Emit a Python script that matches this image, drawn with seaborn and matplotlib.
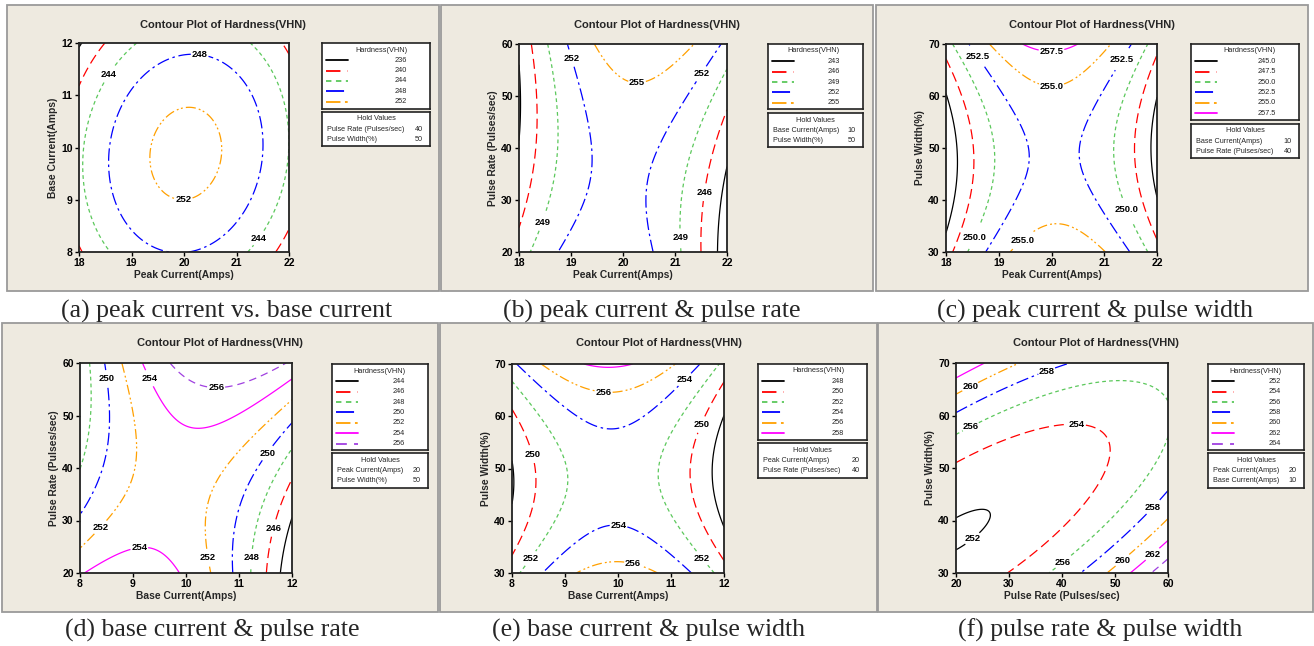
import numpy as np
import matplotlib
matplotlib.use("Agg")
import matplotlib.pyplot as plt
import seaborn as sns
from matplotlib.patches import Rectangle

# ---------------------------------------------------------------------------
# Data: points read off each contour line of the six Minitab plots,
# keyed by contour level (x, y in the plot's own units).
# ---------------------------------------------------------------------------
PEAK_BASE_LEVELS = [236, 240, 244, 248, 252]
PEAK_BASE_PTS = {
    252: [(19.35, 9.86), (20.69, 10.02), (20.08, 10.76), (19.99, 9.10), (19.6, 10.53), (20.5, 9.26)],
    248: [(18.56, 9.77), (21.51, 10.02), (19.99, 11.78), (19.96, 8.01), (18.97, 8.43),
          (21.07, 8.49), (19.16, 11.33), (21.07, 11.3)],
    244: [(18.08, 10.02), (21.96, 9.89), (19.1, 12), (21.23, 12), (18.59, 8), (21.19, 8)],
    240: [(18, 11.17), (18.5, 12), (18, 8.11), (18.08, 8), (21.73, 8), (22, 8.43), (21.89, 12), (22, 11.81)],
}
PEAK_BASE_HOLD = [("Pulse Rate (Pulses/sec)", "40"), ("Pulse Width(%)", "50")]

PEAK_RATE_LEVELS = [243, 246, 249, 252, 255]
PEAK_RATE_PTS = {
    255: [(19.44, 60), (21.38, 60), (20.07, 52.8), (20.45, 52.8), (20.26, 52.5)],
    252: [(19.01, 60), (19.17, 52.5), (19.4, 41), (19.4, 37.1), (19.17, 30.1), (18.8, 20),
          (21.89, 60), (21.09, 46.7), (20.52, 35.2), (20.46, 27.5), (20.58, 20)],
    249: [(18.53, 60), (18.72, 46.1), (18.69, 36.5), (18.4, 26.9), (18.24, 20),
          (22, 55.1), (21.48, 44.8), (21.16, 35.2), (21.1, 20)],
    246: [(18.22, 60), (18.34, 42.9), (18.21, 32), (18, 24.3),
          (22, 47.1), (21.67, 38.4), (21.51, 26.9), (21.51, 20)],
    243: [(18.03, 41.6), (18.03, 50.6), (18, 54.7), (18, 40.3), (21.83, 20), (21.89, 30.1), (22, 36.2)],
}
PEAK_RATE_HOLD = [("Base Current(Amps)", "10"), ("Pulse Width(%)", "50")]

PEAK_WIDTH_LEVELS = [245.0, 247.5, 250.0, 252.5, 255.0, 257.5]
PEAK_WIDTH_PTS = {
    257.5: [(19.44, 70), (19.94, 68.9), (20.45, 70)],
    255.0: [(18.8, 70), (19.37, 64.7), (20.04, 62.5), (20.64, 64.4), (21.21, 70),
            (19.18, 30), (19.63, 33.3), (20.07, 35.3), (20.58, 34.3), (21.02, 30)],
    252.5: [(18.44, 70), (19.18, 58.7), (19.59, 49), (19.18, 40.1), (18.8, 30),
            (21.51, 70), (20.7, 56.1), (20.51, 49.7), (20.77, 42.6), (21.47, 30)],
    250.0: [(18.12, 70), (18.74, 59.3), (18.93, 49), (18.74, 40.1), (18.46, 30),
            (21.84, 70), (21.27, 57.4), (21.18, 49), (21.34, 40.1), (21.82, 30)],
    247.5: [(18.01, 66.7), (18.49, 55.4), (18.52, 49.7), (18.36, 40.1), (18.15, 30),
            (22, 67.9), (21.59, 56.1), (21.56, 49), (21.72, 40.1), (22, 33)],
    245.0: [(18, 60), (18.23, 49.7), (18.11, 38.8), (18, 33.3), (22, 60), (21.89, 49.7), (22, 40.1)],
}
PEAK_WIDTH_HOLD = [("Base Current(Amps)", "10"), ("Pulse Rate (Pulses/sec)", "40")]

BASE_RATE_LEVELS = [244, 246, 248, 250, 252, 254, 256]
BASE_RATE_PTS = {
    256: [(9.67, 60), (10.02, 56.8), (10.33, 55.4), (10.9, 56.5), (11.91, 60)],
    254: [(9.18, 60), (9.45, 54.6), (9.83, 49.5), (10.2, 47.4), (10.77, 49.5), (11.53, 53.3), (12, 57),
          (8.13, 20), (9.01, 24.4), (9.45, 23.8), (9.89, 20)],
    252: [(8.79, 60), (9.04, 47.6), (9.01, 40), (8.79, 34.3), (8.38, 29.8), (8, 24.6),
          (10.46, 20), (10.39, 31.7), (10.58, 38.1), (11.15, 43.2), (12, 53)],
    250: [(8.47, 60), (8.57, 52.1), (8.54, 46.3), (8.35, 38.1), (8, 30.8),
          (10.9, 20), (10.96, 31.1), (11.28, 38.7), (12, 48.6)],
    248: [(8.19, 60), (8.18, 50.2), (8, 39.7), (11.23, 20), (11.34, 31.7), (11.65, 38.7), (12, 43.5)],
    246: [(11.53, 20), (11.69, 30.5), (12, 38.1)],
    244: [(11.79, 20), (12, 30.5)],
}
BASE_RATE_HOLD = [("Peak Current(Amps)", "20"), ("Pulse Width(%)", "50")]

BASE_WIDTH_LEVELS = [248, 250, 252, 254, 256, 258]
BASE_WIDTH_PTS = {
    258: [(9.41, 70), (9.79, 69.2), (10.26, 70)],
    256: [(8.57, 70), (9.16, 66.3), (9.98, 64.4), (10.67, 66.3), (11.08, 70),
          (9.22, 30), (9.92, 32), (10.42, 31.3), (10.76, 30)],
    254: [(8.13, 69.8), (8.91, 62.8), (9.92, 57.7), (10.67, 60.3), (11.55, 70),
          (8.6, 30), (9.16, 34.8), (9.79, 38.9), (10.42, 37.3), (11.05, 34.1), (11.39, 30)],
    252: [(8, 66.6), (8.53, 59.6), (9.04, 50.1), (8.72, 40.5), (8.16, 30),
          (11.92, 70), (11.05, 59.6), (10.76, 49.4), (10.98, 40.5), (11.8, 30)],
    250: [(8.02, 61.2), (8.44, 51.3), (8.44, 48.8), (8.28, 40.5), (8.02, 33.5),
          (12, 66.6), (11.49, 57.7), (11.36, 49.4), (11.52, 40.5), (12, 32.9)],
    248: [(8.04, 48.5), (8, 44.5), (8, 51), (12, 60.3), (11.8, 52.6), (11.83, 44.3), (12, 38.9)],
}
BASE_WIDTH_HOLD = [("Peak Current(Amps)", "20"), ("Pulse Rate (Pulses/sec)", "40")]

RATE_WIDTH_LEVELS = [252, 254, 256, 258, 260, 262, 264]
RATE_WIDTH_PTS = {
    264: [(56.98, 30), (60, 32.9)],
    262: [(52.88, 30), (60, 36.3), (20, 67.1), (25.48, 70)],
    260: [(48.47, 30), (55.09, 35.4), (60, 40.2), (20, 64), (25.48, 66.8), (32.41, 70)],
    258: [(43.12, 30), (50.68, 36.7), (60, 45.6), (20, 60.5), (29.9, 65.9), (34.93, 68.1), (41.86, 70)],
    256: [(20, 56.5), (29.9, 61.4), (39.97, 64.9), (51.31, 66.5), (56.98, 65.6), (60, 63), (60, 55.7),
          (55.09, 46.8), (48.79, 39.2), (42.49, 34.1), (37.26, 30)],
    254: [(20, 51.1), (29.9, 55.7), (39.97, 57.7), (46.27, 57), (48.47, 52.5), (45.64, 46.8),
          (39.97, 37.9), (35.56, 33.5), (29.76, 30)],
    252: [(20, 40.5), (23.59, 41.1), (24.72, 39.8), (23.59, 37.9), (20, 34.4)],
}
RATE_WIDTH_HOLD = [("Peak Current(Amps)", "20"), ("Base Current(Amps)", "10")]

# Minitab contour styles, in legend order
LINE_COLORS = ["#000000", "#FF0000", "#5CC85C", "#0000FF", "#FFA000", "#FF00FF", "#A040E0"]
LINE_DASHES = ["solid", (0, (8, 4)), (0, (3, 2.5)), (0, (10, 3, 2, 3)),
               (0, (8, 2.5, 1.5, 2, 1.5, 2.5)), "solid", (0, (6, 4))]
BEIGE = "#EEEAE0"
W, H = 1314, 646

# layout boxes are in pixels (x0, top, x1, bottom)
PANELS = [
    dict(pts=PEAK_BASE_PTS, levels=PEAK_BASE_LEVELS, hold=PEAK_BASE_HOLD, fmt="%d",
         xlim=(18, 22), ylim=(8, 12), xstep=1, ystep=1,
         xlabel="Peak Current(Amps)", ylabel="Base Current(Amps)",
         caption="(a) peak current vs. base current", cap=(227, 318),
         frame=(7, 5, 439, 291), ax=(79, 43, 289, 252), leg=(322, 43, 430, 109), hbox=(322, 112, 430, 146),
         labels=[(20.3, 11.78), (18.58, 11.38), (19.99, 9.1), (21.38, 8.3)]),
    dict(pts=PEAK_RATE_PTS, levels=PEAK_RATE_LEVELS, hold=PEAK_RATE_HOLD, fmt="%d",
         xlim=(18, 22), ylim=(20, 60), xstep=1, ystep=10,
         xlabel="Peak Current(Amps)", ylabel="Pulse Rate (Pulses/sec)",
         caption="(b) peak current & pulse rate", cap=(652, 318),
         frame=(441, 5, 873, 291), ax=(519, 44, 727, 252), leg=(768, 44, 863, 109), hbox=(768, 113, 863, 147),
         labels=[(18.98, 57.2), (20.27, 52.3), (21.5, 54.3), (18.45, 25.7), (21.57, 31.5), (21.09, 22.8)]),
    dict(pts=PEAK_WIDTH_PTS, levels=PEAK_WIDTH_LEVELS, hold=PEAK_WIDTH_HOLD, fmt="%.1f",
         xlim=(18, 22), ylim=(30, 70), xstep=1, ystep=10,
         xlabel="Peak Current(Amps)", ylabel="Pulse Width(%)",
         caption="(c) peak current & pulse width", cap=(1095, 318),
         frame=(876, 5, 1308, 291), ax=(946, 44, 1157, 252), leg=(1191, 44, 1299, 120), hbox=(1191, 124, 1299, 158),
         labels=[(20.0, 68.6), (18.58, 67.6), (21.32, 67.2), (20.0, 62.2), (21.41, 38.0), (18.55, 32.8),
                 (19.44, 32.3)]),
    dict(pts=BASE_RATE_PTS, levels=BASE_RATE_LEVELS, hold=BASE_RATE_HOLD, fmt="%d",
         xlim=(8, 12), ylim=(20, 60), xstep=1, ystep=10,
         xlabel="Base Current(Amps)", ylabel="Pulse Rate (Pulses/sec)",
         caption="(d) base current & pulse rate", cap=(212, 637),
         frame=(2, 323, 438, 612), ax=(80, 363, 292, 573), leg=(332, 364, 428, 450), hbox=(332, 453, 428, 488),
         labels=[(8.5, 56.95), (9.28, 56.95), (10.57, 55.2), (11.53, 42.9), (8.4, 28.6), (9.12, 24.6),
                 (10.41, 22.9), (11.23, 22.9), (11.64, 28.6)]),
    dict(pts=BASE_WIDTH_PTS, levels=BASE_WIDTH_LEVELS, hold=BASE_WIDTH_HOLD, fmt="%d",
         xlim=(8, 12), ylim=(30, 70), xstep=1, ystep=10,
         xlabel="Base Current(Amps)", ylabel="Pulse Width(%)",
         caption="(e) base current & pulse width", cap=(649, 637),
         frame=(440, 323, 877, 612), ax=(512, 364, 724, 573), leg=(758, 364, 867, 440), hbox=(758, 443, 867, 478),
         labels=[(11.25, 67.1), (9.73, 64.6), (11.55, 58.5), (8.38, 52.7), (10.01, 39.0), (8.36, 32.7),
                 (10.28, 31.7), (11.57, 32.7)]),
    dict(pts=RATE_WIDTH_PTS, levels=RATE_WIDTH_LEVELS, hold=RATE_WIDTH_HOLD, fmt="%d",
         xlim=(20, 60), ylim=(30, 70), xstep=10, ystep=10,
         xlabel="Pulse Rate (Pulses/sec)", ylabel="Pulse Width(%)",
         caption="(f) pulse rate & pulse width", cap=(1100, 637),
         frame=(878, 323, 1313, 612), ax=(956, 363, 1168, 573), leg=(1208, 364, 1304, 450), hbox=(1208, 453, 1304, 488),
         labels=[(37.13, 68.4), (22.83, 65.2), (22.83, 57.8), (42.8, 57.6), (56.98, 42.6), (22.83, 36.9),
                 (39.84, 32.35), (51.18, 32.7), (56.98, 33.7)]),
]


def rect(box):
    x0, y0, x1, y1 = box
    return [x0 / W, 1 - y1 / H, (x1 - x0) / W, (y1 - y0) / H]


def fit_surface(pts, xlim, ylim, n=300):
    xs = np.array([p[0] for lev in pts for p in pts[lev]], dtype=float)
    ys = np.array([p[1] for lev in pts for p in pts[lev]], dtype=float)
    zs = np.array([lev for lev in pts for _ in pts[lev]], dtype=float)
    xc, hx = np.mean(xlim), (xlim[1] - xlim[0]) / 2
    yc, hy = np.mean(ylim), (ylim[1] - ylim[0]) / 2

    def basis(x, y):
        u, v = (x - xc) / hx, (y - yc) / hy
        return np.stack([np.ones_like(u), u, v, u * u, v * v, u * v], axis=-1)

    coef, *_ = np.linalg.lstsq(basis(xs, ys), zs, rcond=None)
    gx, gy = np.meshgrid(np.linspace(*xlim, n), np.linspace(*ylim, n))
    return gx, gy, basis(gx, gy) @ coef


def boxed_axes(fig, box):
    bx = fig.add_axes(rect(box))
    w, h = box[2] - box[0], box[3] - box[1]
    bx.set_xlim(0, w)
    bx.set_ylim(h, 0)
    bx.set_xticks([])
    bx.set_yticks([])
    bx.set_facecolor("white")
    for s in bx.spines.values():
        s.set_color("#222222")
        s.set_linewidth(1.2)
    return bx, w, h


def draw_legend(fig, box, levels, fmt):
    lx, w, _ = boxed_axes(fig, box)
    lx.text(w - 23, 7, "Hardness(VHN)", ha="right", va="center", fontsize=5.3)
    for i, lev in enumerate(levels):
        yy = 17.2 + 10.4 * i
        lx.plot([4, 26], [yy, yy], color=LINE_COLORS[i], linestyle=LINE_DASHES[i], lw=1.3)
        lx.text(w - 23, yy, fmt % lev, ha="right", va="center", fontsize=5.3)


def draw_hold(fig, box, rows):
    hx, w, _ = boxed_axes(fig, box)
    hx.text(w / 2, 7, "Hold Values", ha="center", va="center", fontsize=5.3)
    for i, (name, val) in enumerate(rows):
        yy = 17.5 + 10.5 * i
        hx.text(5, yy, name, ha="left", va="center", fontsize=5.2)
        hx.text(w - 7, yy, val, ha="right", va="center", fontsize=5.2)


sns.set_theme(style="white")
plt.rcParams["font.family"] = ["Liberation Sans", "DejaVu Sans"]

fig = plt.figure(figsize=(W / 100, H / 100), dpi=100)
fig.patch.set_facecolor("white")

for p in PANELS:
    x0, y0, x1, y1 = p["frame"]
    fig.add_artist(Rectangle((x0 / W, 1 - y1 / H), (x1 - x0) / W, (y1 - y0) / H,
                             transform=fig.transFigure, facecolor=BEIGE,
                             edgecolor="#9A9A9A", linewidth=1.3, zorder=0))
    fig.text((x0 + x1) / 2 / W, 1 - (y0 + 20.5) / H, "Contour Plot of Hardness(VHN)",
             ha="center", va="center", fontsize=8, fontweight="bold")

    ax = fig.add_axes(rect(p["ax"]))
    gx, gy, gz = fit_surface(p["pts"], p["xlim"], p["ylim"])
    n = len(p["levels"])
    cs = ax.contour(gx, gy, gz, levels=p["levels"], colors=LINE_COLORS[:n],
                    linestyles=LINE_DASHES[:n], linewidths=0.9)
    txts = ax.clabel(cs, fmt=p["fmt"], manual=p["labels"], inline=True,
                     inline_spacing=1, fontsize=6.8, colors="black")
    for t in txts:
        t.set_fontweight("bold")
        t.set_rotation(0)  # Minitab writes its contour labels horizontally

    ax.set_xlim(p["xlim"])
    ax.set_ylim(p["ylim"])
    ax.set_xticks(np.arange(p["xlim"][0], p["xlim"][1] + 0.01, p["xstep"]))
    ax.set_yticks(np.arange(p["ylim"][0], p["ylim"][1] + 0.01, p["ystep"]))
    ax.set_facecolor("white")
    for s in ax.spines.values():
        s.set_color("#222222")
        s.set_linewidth(1.3)
    ax.tick_params(direction="out", length=3, width=1, pad=1.5, labelsize=7.5,
                   bottom=True, left=True, colors="black")
    for lab in ax.get_xticklabels() + ax.get_yticklabels():
        lab.set_fontweight("bold")
    ax.set_xlabel(p["xlabel"], fontsize=7.4, fontweight="bold", labelpad=1)
    ax.set_ylabel(p["ylabel"], fontsize=7.4, fontweight="bold", labelpad=2)

    draw_legend(fig, p["leg"], p["levels"], p["fmt"])
    draw_hold(fig, p["hbox"], p["hold"])

    cx, cy = p["cap"]
    fig.text(cx / W, 1 - cy / H, p["caption"], ha="center", va="baseline",
             fontsize=18.5, family=["Liberation Serif", "DejaVu Serif"])

fig.savefig("out.png", dpi=100)
plt.close(fig)
